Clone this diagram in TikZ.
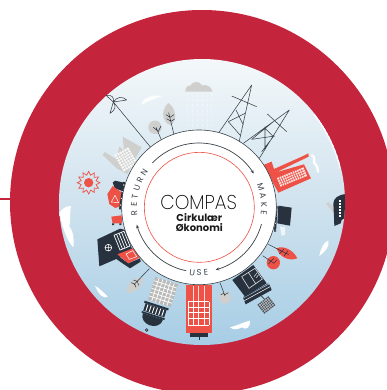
\documentclass[tikz,border=0pt]{standalone}
\usepackage{fontspec}
\usepackage{graphicx}
\setmainfont{Poppins}
\newfontfamily\poplight{Poppins ExtraLight}
\newfontfamily\popbold{Poppins Bold}
\usetikzlibrary{arrows.meta}
\definecolor{ringred}{HTML}{C4243C}
\definecolor{coral}{HTML}{EE5145}
\definecolor{ink}{HTML}{27323E}
\definecolor{stone}{HTML}{CFCFCD}
\definecolor{wire}{HTML}{3A4148}
\definecolor{skytop}{HTML}{F4F8FA}
\definecolor{skymid}{HTML}{CFE2EE}
\definecolor{skybot}{HTML}{A6CDE5}
\tikzset{
  thinline/.style={draw=wire,line width=0.55pt},
  leafbranch/.style={draw=ink,line width=0.5pt},
  ringletter/.style={font=\fontsize{8.4}{9}\selectfont,text=wire,inner sep=0pt},
  arcarrow/.style={draw=wire,line width=0.7pt,-{Stealth[length=3.5pt,width=3pt]}},
  cloudw/.style={fill=white,draw=none},
}
\begin{document}
\begin{tikzpicture}[x=0.33333pt,y=-0.33333pt]
\useasboundingbox (0,0) rectangle (1161,1170);
\fill[white] (0,0) rectangle (1161,1170);
% connector stub and outer ring
\coordinate (stub) at (0,598);
\coordinate (ringedge) at (34,598);
\draw[ringred,line width=1.8pt] (stub) -- (ringedge);
\begin{scope}
\clip (0,0) rectangle (1161,1170);
\fill[ringred] (606,606) circle[radius=576];
\end{scope}
% sky disc
\begin{scope}
\clip (606,606) circle[radius=429];
\shade[top color=skytop,bottom color=skymid] (170,170) rectangle (1040,620);
\shade[top color=skymid,bottom color=skybot] (170,620) rectangle (1040,1040);
% rim highlight
\draw[white,line width=1.6pt,opacity=.8] plot[domain=14:38,samples=20] ({606+427*cos(\x)},{606-427*sin(\x)});
% rain
\foreach \x in {562,577,592,607,622,634}
  \draw[white,line width=0.6pt,dash pattern=on 2.5pt off 2.5pt,opacity=.35] (\x,282) -- (\x,400);
% white clouds
\fill[cloudw,opacity=.85] (422,315) .. controls (428,295) and (450,282) .. (488,288) .. controls (465,295) and (445,305) .. (422,315) -- cycle;
\fill[cloudw] (178,640) .. controls (185,625) and (200,618) .. (213,618) .. controls (208,650) and (212,665) .. (208,680) .. controls (222,695) and (222,725) .. (220,742) .. controls (200,720) and (190,690) .. (178,640) -- cycle;
\fill[cloudw] (285,857) .. controls (298,865) and (312,878) .. (323,890) .. controls (312,898) and (296,885) .. (285,857) -- cycle;
\fill[cloudw] (690,982) .. controls (715,975) and (735,965) .. (750,962) .. controls (752,982) and (738,992) .. (725,982) .. controls (712,990) and (700,990) .. (690,982) -- cycle;
\fill[cloudw] (958,768) .. controls (962,745) and (972,725) .. (985,722) .. controls (990,740) and (975,755) .. (958,768) -- cycle;
% boat at right edge
\fill[stone] (978,610) -- (985,606) -- (1005,625) -- (1003,642) -- cycle;
\fill[ink] (1000,610) .. controls (1002,595) and (1012,584) .. (1040,582) -- (1040,650) -- (1025,660) -- (1022,670) -- (1003,678) -- (1002,650) -- cycle;
\foreach \y in {600,609,618,627,636,645}
  \fill[white] (1017,\y) rectangle (1023,\y+6);
\end{scope}
% grey cloud
\fill[stone] (556,275) .. controls (556,260) and (565,255) .. (572,256) .. controls (578,242) and (600,243) .. (606,256) .. controls (620,252) and (637,262) .. (637,275) -- cycle;
% wind turbine
\draw[thinline] (452,442) -- (340,306);
\draw[thinline,line join=round] (340,306) -- (318,286) .. controls (335,282) and (345,295) .. cycle;
\draw[thinline,line join=round] (340,306) .. controls (350,290) and (368,288) .. (380,300) -- cycle;
\draw[thinline,line join=round] (340,306) .. controls (350,318) and (345,332) .. (330,340) -- cycle;
% grey trees
\fill[stone] (465,382) circle[radius=20];
\draw[leafbranch] (485,422) -- (468,382) (472,392) -- (460,382) (474,396) -- (483,378);
\fill[stone] (505,309) .. controls (530,325) and (532,365) .. (512,376) .. controls (490,370) and (478,335) .. (505,309) -- cycle;
\draw[leafbranch] (522,404) -- (506,338) (510,352) -- (498,344) (510,352) -- (522,344) (513,364) -- (500,356) (513,364) -- (524,357);
% grey factory
\fill[stone] (308,465) -- (314,456) -- (350,478) -- (358,440) -- (372,452) -- (368,410) -- (425,442) -- (398,490) -- (382,522) -- (350,505) -- cycle;
\begin{scope}[shift={(378,478)},rotate=30]
 \fill[white!88!stone] (-24,-28) rectangle (24,28);
 \foreach \i in {-16,-8,0,8,16} \draw[stone,line width=.5pt] (\i,-28) -- (\i,28);
 \foreach \i in {-20,-12,-4,4,12,20} \draw[stone,line width=.5pt] (-24,\i) -- (24,\i);
\end{scope}
% pylons
\draw[thinline,line join=round] (655,400) -- (755,255) -- (717,427)
  (695,288) -- (770,320)
  (685,365) -- (735,340)
  (708,330) -- (730,375)
  (685,365) -- (720,405);
\draw[thinline,line join=round] (730,430) -- (868,330) -- (778,475)
  (802,342) -- (860,395)
  (755,418) -- (825,408)
  (820,365) -- (755,418)
  (795,385) -- (820,410)
  (795,380) -- (795,450)
  (820,410) -- (785,455);
% red factory
\fill[coral] (790,495) -- (815,485) -- (822,507) -- (905,470) -- (925,460) -- (926,470) -- (828,517) -- (912,493) -- (933,535) -- (835,578) -- cycle;
\begin{scope}[shift={(876,531)},rotate=22]
 \fill[white!85!coral] (-43,-14) rectangle (43,14);
 \foreach \i in {-36,-29,...,36} \draw[coral,line width=.5pt] (\i,-14) -- (\i,14);
 \foreach \i in {-7,0,7} \draw[coral,line width=.5pt] (-43,\i) -- (43,\i);
\end{scope}
\draw[white,line width=2.4pt,line cap=round,opacity=.95] (936,466) .. controls (950,470) and (935,490) .. (948,495) .. controls (956,500) and (950,510) .. (954,515);
% sun
\fill[coral] (266,548) circle[radius=14];
\draw[coral,line width=.7pt,line join=miter] (300,548)
  \foreach \a in {0,30,...,330} { -- ({266+23*cos(\a+15)},{548+23*sin(\a+15)}) -- ({266+34*cos(\a+30)},{548+34*sin(\a+30)}) } -- cycle;
% red truck on the left
\fill[ink] (338,548) -- (345,542) -- (372,548) -- (372,575) -- (345,565) -- cycle;
\fill[coral] (322,582) -- (338,558) -- (366,578) -- (362,618) -- (346,624) -- (328,612) -- cycle;
\draw[white,line width=.5pt] (345,586) -- (356,608) -- (334,606) -- cycle;
\draw[ink,line width=2pt] (372,546) -- (360,628);
\foreach \y in {555,575,595,615} \fill[white] ({372-(\y-546)*0.146},\y) circle[radius=2];
\fill[coral] (334,650) -- (365,646) -- (366,670) -- (338,670) -- cycle;
\fill[ink] (336,670) rectangle (342,675) (358,670) rectangle (364,675);
% dark house
\fill[ink] (292,718) -- (360,686) -- (376,690) -- (398,752) -- (365,770) -- (298,799) -- cycle;
\begin{scope}[shift={(366,722)},rotate=22]
 \draw[white,line width=.7pt] (-16,-24) rectangle (16,24);
 \foreach \i in {-8,0,8} \draw[white,line width=.7pt] (\i,-24) -- (\i,24);
\end{scope}
\draw[white,line width=.6pt] (325,743) circle[radius=10] (315,743) -- (335,743) (325,733) -- (325,753);
\fill[ink] (355,768) -- (385,790) -- (420,775) -- (422,785) -- (390,805) -- (350,778) -- cycle;
\fill[coral] (352,763) -- (398,745) -- (420,772) -- (385,790) -- cycle;
\draw[white,line width=.5pt] (378,762) -- (398,752) -- (410,770) -- (388,778) -- cycle;
% grey leaf lower left
\fill[stone] (380,878) .. controls (378,852) and (402,830) .. (428,833) .. controls (432,858) and (408,880) .. (380,878) -- cycle;
\draw[leafbranch] (448,806) -- (402,854) (412,844) -- (400,840) (412,844) -- (416,856) (404,852) -- (394,848) (404,852) -- (408,862);
% grey building and dark dome
\begin{scope}[shift={(489,876)},rotate=-18]
 \fill[stone!90!black] (-36,-36) rectangle (36,36);
 \foreach \i in {-24,-12,0,12,24} {\draw[white,line width=.7pt] (\i,-36) -- (\i,36); \draw[white,line width=.7pt] (-36,\i) -- (36,\i);}
\end{scope}
\begin{scope}[shift={(465,930)},rotate=-18]
 \fill[ink] (-38,-17) rectangle (38,-11);
 \fill[ink] (-33,-11) rectangle (33,13);
 \foreach \i in {-25,-15,-5,5,15,25} \draw[white,line width=.9pt] (\i,-9) -- (\i,12);
 \fill[ink] (-36,15) rectangle (36,20);
 \fill[ink] (-32,20) .. controls (-32,58) and (32,58) .. (32,20) -- cycle;
\end{scope}
\draw[ink,line width=.7pt,fill=stone] (440,990) circle[radius=4];
% red skyscraper
\fill[coral] (557,855) rectangle (635,998);
\foreach \x in {580,595,612} \draw[white!80!coral,line width=.5pt] (\x,858) -- (\x,905);
\foreach \x in {565,580,595,612,628} \draw[white,line width=.6pt] (\x,905) -- (\x,975);
\foreach \y in {905,922,938,955,975} \draw[white,line width=.6pt] (565,\y) -- (628,\y);
\fill[ink] (570,1000) rectangle (625,1010);
\draw[ink,line width=.6pt] (597,1010) -- (597,1020);
% grey tree lower centre
\fill[stone] (675,893) circle[radius=18];
\draw[leafbranch] (660,848) -- (675,888) (672,880) -- (662,884) (674,884) -- (685,878);
% dark tilted building
\fill[ink] (697,840) -- (760,795) -- (800,850) -- (735,890) -- cycle;
\draw[white!85!ink,line width=.6pt] (725,830) -- (765,805) -- (787,837) -- (747,865) -- cycle (745,817) -- (767,851);
\draw[white!85!ink,line width=.5pt] (762,830) -- (772,818) (768,834) -- (776,824);
\draw[ink,line width=.5pt] (730,892) -- (805,851);
\fill[ink] (730,895) -- (808,853) -- (815,870) -- (737,913) -- cycle;
\draw[white,line width=.5pt] (733,902) -- (810,860);
\draw[ink,line width=.6pt] (783,887) -- (793,897);
\begin{scope}[shift={(799,915)},rotate=38]
 \fill[ink!85!white] (-21,-17) rectangle (21,17);
 \foreach \i in {-15,-9,-3,3,9,15} \draw[white!80!ink,line width=.35pt] (\i,-17) -- (\i,17);
 \foreach \i in {-12,-6,0,6,12} \draw[white!80!ink,line width=.35pt] (-21,\i) -- (21,\i);
\end{scope}
% red leaf and red tree
\fill[coral] (830,745) .. controls (850,735) and (880,750) .. (892,775) .. controls (865,785) and (838,770) .. (830,745) -- cycle;
\draw[leafbranch] (805,733) -- (866,764) (846,754) -- (838,762) (846,754) -- (852,746) (858,760) -- (852,768) (858,760) -- (864,752);
\fill[coral] (820,788) circle[radius=20];
\draw[leafbranch] (788,767) -- (822,790) (812,784) -- (806,792) (812,784) -- (822,775) (822,790) -- (830,780);
% dark truck on the right
\fill[white,opacity=.7] (840,680) -- (855,682) -- (855,705) -- (845,707) -- cycle;
\fill[ink] (835,617) -- (875,623) -- (870,677) -- (832,670) -- cycle;
\draw[ink,line width=2pt] (830,618) -- (825,695);
\foreach \y in {630,650,670,690} \fill[white] ({830-(\y-618)*0.065},\y) circle[radius=1.8];
% central wheel
\node[circle,draw=wire,fill=white,line width=0.6pt,minimum size=154.7pt,inner sep=0pt] (hub) at (597,622) {};
\node[circle,draw=coral,fill=white,line width=0.6pt,minimum size=110pt,inner sep=0pt] (core) at (598,622) {};
% cycle arrows
\draw[arcarrow] plot[domain=136.5:31.7,samples=50] ({597+193*cos(\x)},{622-193*sin(\x)});
\draw[arcarrow] plot[domain=-15:-75,samples=30] ({597+194*cos(\x)},{622-194*sin(\x)});
\draw[arcarrow] plot[domain=258.6:195.7,samples=30] ({597+194*cos(\x)},{622-194*sin(\x)});
% ring letters
\foreach \ch/\a in {R/185,E/177.6,T/170.2,U/162.8,R/155.4,N/147.6}
  \node[ringletter,rotate=\a-90] at ({597+195*cos(\a)},{622-195*sin(\a)}) {\ch};
\foreach \ch/\a in {M/18.4,A/10.5,K/2.6,E/-5.3}
  \node[ringletter,rotate=\a-90] at ({597+195*cos(\a)},{622-195*sin(\a)}) {\ch};
\foreach \ch/\a in {U/264,S/270,E/276}
  \node[ringletter,rotate=\a+90] at ({597+197*cos(\a)},{622-197*sin(\a)}) {\ch};
% centre text
\node[inner sep=0pt,font=\poplight\fontsize{20}{20}\selectfont,text=black] (title) at (596,607) {\scalebox{.93}[1]{COMPAS}};
\node[inner sep=0pt,font=\popbold\fontsize{10}{10}\selectfont,text=black!90] (sub1) at (598,652) {Cirkulær};
\node[inner sep=0pt,font=\popbold\fontsize{10}{10}\selectfont,text=black!90] (sub2) at (598,684) {Økonomi};
\end{tikzpicture}
\end{document}
